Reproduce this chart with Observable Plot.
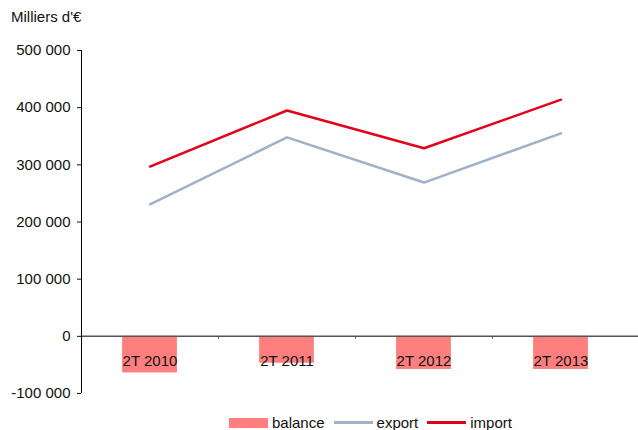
<!DOCTYPE html>
<html>
<head>
<meta charset="utf-8">
<script src="https://cdn.jsdelivr.net/npm/d3@7"></script>
<script src="https://cdn.jsdelivr.net/npm/@observablehq/plot@0.6"></script>
<style>
  body { margin: 0; background: #fff; font-family: "Liberation Sans", Arial, sans-serif; }
  #wrap { position: relative; width: 638px; height: 430px; overflow: hidden; }
  #title { position: absolute; left: 11px; top: 8px; font-size: 15px; color: #111; }
  #legend { position: absolute; left: 229px; top: 414px; display: flex; align-items: center; font-size: 15px; color: #111; }
  .sw { display: inline-block; margin-right: 4px; }
  .it { display: flex; align-items: center; margin-right: 9px; }
</style>
</head>
<body>
<div id="wrap">
  <div id="title">Milliers d'€</div>
  <div id="chart"></div>
  <div id="legend"></div>
</div>
<script>
const categories = ["2T 2010", "2T 2011", "2T 2012", "2T 2013"];
const balance = [-64000, -47000, -58000, -58000];
const exportValues = [231000, 348000, 269000, 355000];
const importValues = [297000, 395000, 329000, 414000];
const yTicks = [-100000, 0, 100000, 200000, 300000, 400000, 500000];

const colors = { balance: "#ff7f7f", export: "#9fb2c6", import: "#e2001a" };

const rows = categories.map((c, i) => ({
  cat: c, i, balance: balance[i], export: exportValues[i], import: importValues[i]
}));

const fmt = v => d3.format(",")(v).replace(/,/g, " ").replace("−", "-");

const chart = Plot.plot({
  width: 638,
  height: 410,
  marginLeft: 81,
  marginRight: 9,
  marginTop: 50,
  marginBottom: 17,
  style: { fontFamily: "Liberation Sans, Arial, sans-serif", fontSize: "15px", color: "#111" },
  x: { domain: [0, 4], axis: null },
  y: { domain: [-100000, 500000], ticks: yTicks, tickFormat: fmt, tickSize: 4, tickPadding: 7, label: null },
  marks: [
    Plot.rectY(rows, { x1: d => d.i + 0.3, x2: d => d.i + 0.7, y1: 0, y2: "balance", fill: colors.balance }),
    Plot.ruleY([0], { x1: 0, x2: 4.07, stroke: "#555", strokeWidth: 1.5 }),
    Plot.ruleX([1, 2, 3], { y1: 0, y2: -5000, stroke: "#555", strokeWidth: 1 }),
    Plot.ruleX([0], { y1: -100000, y2: 500000, stroke: "#000", strokeWidth: 1 }),
    Plot.line(rows, { x: d => d.i + 0.5, y: "export", stroke: colors.export, strokeWidth: 2.5 }),
    Plot.line(rows, { x: d => d.i + 0.5, y: "import", stroke: colors.import, strokeWidth: 2.5 }),
    Plot.text(rows, { x: d => d.i + 0.5, y: 0, text: "cat", dy: 25, fill: "#111", fontSize: 15 })
  ]
});
document.getElementById("chart").appendChild(chart);

const legendItems = [
  { name: "balance", kind: "rect" },
  { name: "export", kind: "line" },
  { name: "import", kind: "line" }
];
const lg = document.getElementById("legend");
legendItems.forEach(it => {
  const d = document.createElement("span");
  d.className = "it";
  const s = document.createElement("span");
  s.className = "sw";
  s.style.width = "39px";
  s.style.height = it.kind === "rect" ? "10px" : "3px";
  s.style.background = colors[it.name];
  d.appendChild(s);
  d.appendChild(document.createTextNode(it.name));
  lg.appendChild(d);
});
</script>
</body>
</html>
